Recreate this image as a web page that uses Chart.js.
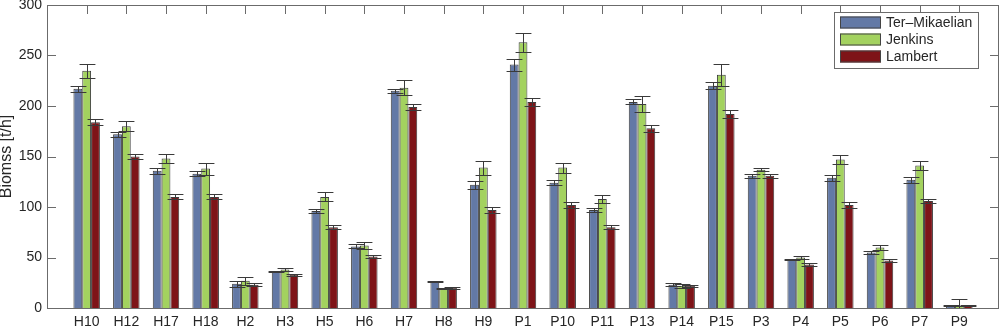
<!DOCTYPE html>
<html>
<head>
<meta charset="utf-8">
<script src="https://cdn.jsdelivr.net/npm/chart.js@4"></script>
<style>
  html, body { margin: 0; padding: 0; background: #fff; }
  #wrap { width: 1000px; height: 326px; }
</style>
</head>
<body>
<div id="wrap"><canvas id="biomass"></canvas></div>
<script>
const categories = ["H10", "H12", "H17", "H18", "H2", "H3", "H5", "H6", "H7", "H8", "H9",
  "P1", "P10", "P11", "P13", "P14", "P15", "P3", "P4", "P5", "P6", "P7", "P9"];

const terMikaelian = [217, 172, 136, 133, 24, 36, 96, 61, 215, 26, 122, 241, 124, 97, 204, 23, 220, 131, 48, 129, 55, 127, 2];
const jenkins = [235, 180, 148, 138, 27, 38, 110, 62, 218, 19, 139, 263, 139, 108, 202, 22, 231, 137, 50, 147, 60, 141, 2];
const lambert = [184, 150, 110, 110, 23, 33, 80, 51, 199, 20, 97, 204, 102, 80, 178, 22, 192, 131, 43, 102, 47, 106, 2];

const errTerMikaelian = [3, 2.5, 3, 2.5, 3, 0.5, 2.3, 2, 2, 0.5, 3.8, 6, 2.5, 2.2, 2.5, 1.3, 3.3, 2, 0.8, 3, 1.5, 3, 0.5];
const errJenkins = [7, 5, 4.5, 6, 4, 1.5, 4.5, 3.5, 7.5, 0.5, 7, 9.7, 5, 3.8, 8, 2, 11, 1.8, 1.3, 4.6, 2.8, 4.6, 7];
const errLambert = [3, 2, 2.5, 2.5, 1.5, 1, 2, 1.7, 2.5, 1, 3, 4, 2.6, 2, 3.3, 1, 3.8, 2, 1.2, 2.5, 1.8, 2.3, 0.5];

const yTicks = [0, 50, 100, 150, 200, 250, 300];

const FONT = "'Liberation Sans', Arial, sans-serif";
const AXIS = "#6b6b6b";
const TEXT = "#262626";

// one empty slot on each side, like the matlab axis limits 0..24
const pad = (arr) => [null, ...arr, null];
const labels = ["", ...categories, ""];

const series = [
  { label: "Ter\u2013Mikaelian", data: terMikaelian, err: errTerMikaelian, color: "#6379a6" },
  { label: "Jenkins", data: jenkins, err: errJenkins, color: "#a3d25f" },
  { label: "Lambert", data: lambert, err: errLambert, color: "#7e1418" },
];

const frame = {
  id: "frame",
  beforeDatasetsDraw(chart) {
    const { ctx, chartArea: a, scales: { x } } = chart;
    ctx.save();
    ctx.strokeStyle = AXIS;
    ctx.lineWidth = 1;
    ctx.beginPath();
    categories.forEach((c, i) => {
      const px = Math.round(x.getPixelForTick(i + 1)) + 0.5;
      ctx.moveTo(px, a.bottom);
      ctx.lineTo(px, a.bottom - 9);
    });
    ctx.stroke();
    ctx.restore();
  },
  afterDatasetsDraw(chart) {
    const { ctx, chartArea: a, scales: { x, y } } = chart;
    ctx.save();
    ctx.strokeStyle = AXIS;
    ctx.lineWidth = 1;
    ctx.beginPath();
    categories.forEach((c, i) => {
      const px = Math.round(x.getPixelForTick(i + 1)) + 0.5;
      ctx.moveTo(px, a.top);
      ctx.lineTo(px, a.top + 9);
    });
    yTicks.forEach((v) => {
      const py = Math.round(y.getPixelForValue(v)) + 0.5;
      ctx.moveTo(a.left, py);
      ctx.lineTo(a.left + 9, py);
      ctx.moveTo(a.right, py);
      ctx.lineTo(a.right - 9, py);
    });
    ctx.stroke();
    ctx.strokeRect(Math.round(a.left) + 0.5, Math.round(a.top) + 0.5,
      Math.round(a.right - a.left) - 1, Math.round(a.bottom - a.top));
    ctx.restore();
  },
};

const errorBars = {
  id: "errorBars",
  afterDatasetsDraw(chart) {
    const { ctx, chartArea: a, scales: { y } } = chart;
    ctx.save();
    ctx.beginPath();
    ctx.rect(a.left, a.top, a.right - a.left, a.bottom - a.top);
    ctx.clip();
    ctx.strokeStyle = "#3a3a3a";
    ctx.lineWidth = 1;
    series.forEach((s, d) => {
      const meta = chart.getDatasetMeta(d);
      s.data.forEach((v, i) => {
        const bar = meta.data[i + 1];
        if (!bar) return;
        const cx = Math.round(bar.x) + 0.5;
        const half = bar.width * 0.9;
        const hi = Math.round(y.getPixelForValue(v + s.err[i])) + 0.5;
        const lo = Math.round(y.getPixelForValue(v - s.err[i])) + 0.5;
        ctx.beginPath();
        ctx.moveTo(cx, hi);
        ctx.lineTo(cx, lo);
        ctx.moveTo(cx - half, hi);
        ctx.lineTo(cx + half, hi);
        ctx.moveTo(cx - half, lo);
        ctx.lineTo(cx + half, lo);
        ctx.stroke();
      });
    });
    ctx.restore();
  },
};

const boxLegend = {
  id: "boxLegend",
  afterDraw(chart) {
    const { ctx } = chart;
    const left = 834, top = 12, w = 144, h = 56;
    ctx.save();
    ctx.fillStyle = "#fff";
    ctx.fillRect(left, top, w, h);
    ctx.strokeStyle = AXIS;
    ctx.lineWidth = 1;
    ctx.strokeRect(left + 0.5, top + 0.5, w, h);
    ctx.font = "14px " + FONT;
    ctx.textBaseline = "middle";
    series.forEach((s, i) => {
      const cy = top + 10.5 + i * 17;
      ctx.fillStyle = s.color;
      ctx.fillRect(left + 6, cy - 6, 41, 12);
      ctx.strokeStyle = "#444";
      ctx.strokeRect(left + 6.5, cy - 5.5, 40, 11);
      ctx.fillStyle = TEXT;
      ctx.fillText(s.label, left + 52, cy + 1);
    });
    ctx.restore();
  },
};

new Chart(document.getElementById("biomass"), {
  type: "bar",
  data: {
    labels,
    datasets: series.map((s) => ({
      label: s.label,
      data: pad(s.data),
      backgroundColor: s.color,
      borderColor: "#3c3c3c",
      borderWidth: 1,
      categoryPercentage: 0.667,
      barPercentage: 1,
    })),
  },
  options: {
    responsive: true,
    maintainAspectRatio: false,
    animation: false,
    layout: { padding: { top: 5, right: 1, left: 0, bottom: 0 } },
    plugins: {
      legend: { display: false },
      tooltip: { enabled: false },
    },
    scales: {
      x: {
        offset: false,
        grid: { display: false, drawTicks: false },
        border: { display: false },
        ticks: {
          autoSkip: false,
          maxRotation: 0,
          padding: 6,
          color: TEXT,
          font: { family: FONT, size: 14 },
        },
        afterFit: (s) => {
          s.height = 18;
          s.paddingLeft = 0;
          s.paddingRight = 0;
        },
      },
      y: {
        min: 0,
        max: 300,
        grid: { display: false, drawTicks: false },
        border: { display: false },
        ticks: {
          stepSize: 50,
          padding: 5,
          color: TEXT,
          font: { family: FONT, size: 14 },
        },
        title: {
          display: true,
          text: "Biomss [t/h]",
          color: TEXT,
          padding: { top: -1, bottom: 0 },
          font: { family: FONT, size: 16, lineHeight: 1 },
        },
        afterFit: (s) => {
          s.width = 47;
          s.paddingTop = 0;
          s.paddingBottom = 0;
        },
      },
    },
  },
  plugins: [frame, errorBars, boxLegend],
});
</script>
</body>
</html>
